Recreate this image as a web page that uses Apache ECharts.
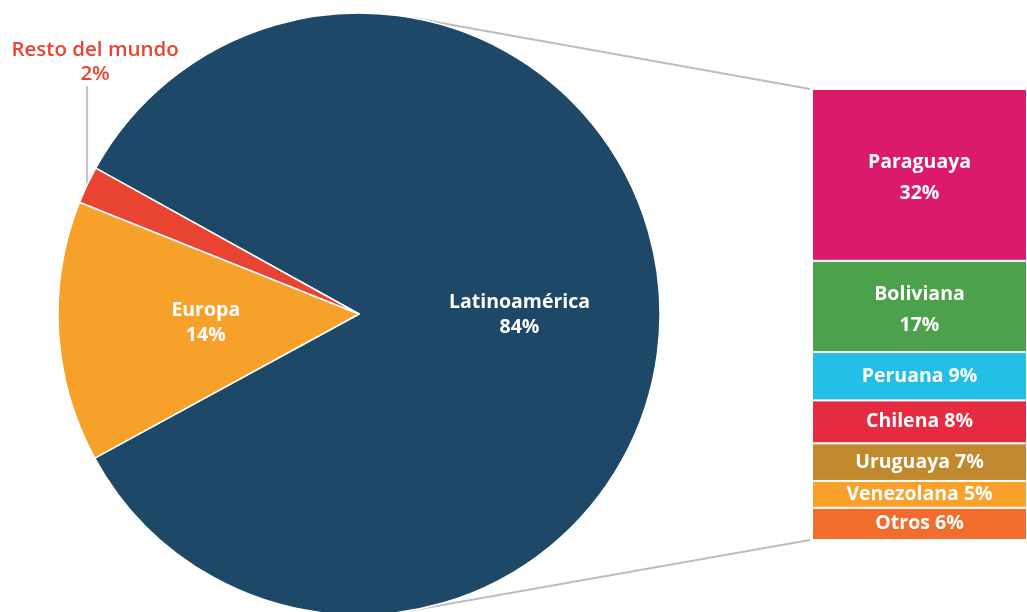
<!DOCTYPE html>
<html>
<head>
<meta charset="utf-8">
<script src="https://cdn.jsdelivr.net/npm/echarts@6/dist/echarts.min.js"></script>
<style>
  html, body { margin: 0; padding: 0; background: #fff; }
  #chart { width: 1027px; height: 612px; }
</style>
</head>
<body>
<div id="chart"></div>
<script>
// Origen de la población extranjera
const regions = ['Latinoamérica', 'Europa', 'Resto del mundo'];
const regionShares = [84, 14, 2];
const regionColors = ['#1d4868', '#f7a02a', '#e94331'];

// Desglose de Latinoamérica por nacionalidad
const nationalities = ['Paraguaya', 'Boliviana', 'Peruana', 'Chilena', 'Uruguaya', 'Venezolana', 'Otros'];
const nationalityShares = [32, 17, 9, 8, 7, 5, 6];
const nationalityColors = ['#dc1a6b', '#4ba24a', '#23bfe6', '#e62a3f', '#c1892d', '#f9a12b', '#f26c2d'];

const FONT = '"Open Sans", Lato, sans-serif';
const PIE = { cx: 359, cy: 314, r: 301 };
const GRID = { left: 812, top: 89, width: 215, height: 451 };
const latinTotal = nationalityShares.reduce((a, b) => a + b, 0);

const chart = echarts.init(document.getElementById('chart'));

const pieData = regions.map((name, i) => {
  const item = { name, value: regionShares[i], itemStyle: { color: regionColors[i] } };
  if (i === 0) item.label = { offset: [7, 0] };
  if (i === 2) {
    item.label = {
      position: 'outside',
      color: '#e94331',
      fontWeight: 600,
      fontSize: 20.5,
      lineHeight: 24,
      formatter: '{b}\n{c}%'
    };
    item.labelLine = { show: true, lineStyle: { color: '#c4c4c4', width: 2 } };
  }
  return item;
});

const barSeries = nationalities.map((name, i) => ({
  name,
  type: 'bar',
  stack: 'latam',
  barWidth: '100%',
  data: [nationalityShares[i]],
  itemStyle: { color: nationalityColors[i], borderColor: '#fff', borderWidth: 1 },
  label: {
    show: true,
    position: 'inside',
    offset: i < 2 ? [0, 3] : [0, 0],
    color: '#fff',
    fontFamily: FONT,
    fontWeight: 'bold',
    fontSize: 19.5,
    lineHeight: 31,
    formatter: i < 2 ? '{a}\n{c}%' : '{a} {c}%'
  },
  emphasis: { disabled: true }
}));

chart.setOption({
  animation: false,
  textStyle: { fontFamily: FONT },
  grid: { left: GRID.left, top: GRID.top, width: GRID.width, height: GRID.height },
  xAxis: { type: 'category', data: ['Latinoamérica'], show: false },
  yAxis: { type: 'value', min: 0, max: latinTotal, inverse: true, show: false },
  series: [
    {
      type: 'pie',
      center: [PIE.cx, PIE.cy],
      radius: PIE.r,
      startAngle: 151,
      clockwise: true,
      avoidLabelOverlap: false,
      itemStyle: { borderColor: '#fff', borderWidth: 1.5 },
      label: {
        show: true,
        position: 'inside',
        color: '#fff',
        fontFamily: FONT,
        fontWeight: 'bold',
        fontSize: 19.5,
        lineHeight: 25,
        formatter: '{b}\n{c}%'
      },
      labelLine: { show: false },
      labelLayout: function (params) {
        if (params.dataIndex !== 2 || !params.labelLinePoints) return;
        const start = params.labelLinePoints[0];
        const textY = 62;
        const lineEnd = [start[0], textY + 24];
        return {
          x: start[0] + 8,
          y: textY,
          align: 'center',
          verticalAlign: 'middle',
          labelLinePoints: [start, lineEnd, lineEnd]
        };
      },
      emphasis: { disabled: true },
      data: pieData
    }
  ].concat(barSeries)
});

// Líneas de conexión: tangentes al círculo hacia las esquinas de la barra
function tangentPoint(px, py, upper) {
  const dx = px - PIE.cx, dy = py - PIE.cy;
  const d = Math.sqrt(dx * dx + dy * dy);
  const base = Math.atan2(dy, dx);
  const off = Math.acos(PIE.r / d);
  const a = upper ? base - off : base + off;
  return [PIE.cx + PIE.r * Math.cos(a), PIE.cy + PIE.r * Math.sin(a)];
}
const yTop = chart.convertToPixel({ yAxisIndex: 0 }, 0);
const yBottom = chart.convertToPixel({ yAxisIndex: 0 }, latinTotal);
const tTop = tangentPoint(GRID.left, yTop, true);
const tBottom = tangentPoint(GRID.left, yBottom, false);
const connector = (a, b) => ({
  type: 'line',
  z: -1,
  shape: { x1: a[0], y1: a[1], x2: b[0], y2: b[1] },
  style: { stroke: '#bdbdbd', lineWidth: 2 }
});
chart.setOption({
  graphic: [
    connector(tTop, [GRID.left - 2, yTop]),
    connector(tBottom, [GRID.left - 2, yBottom])
  ]
});
</script>
</body>
</html>
